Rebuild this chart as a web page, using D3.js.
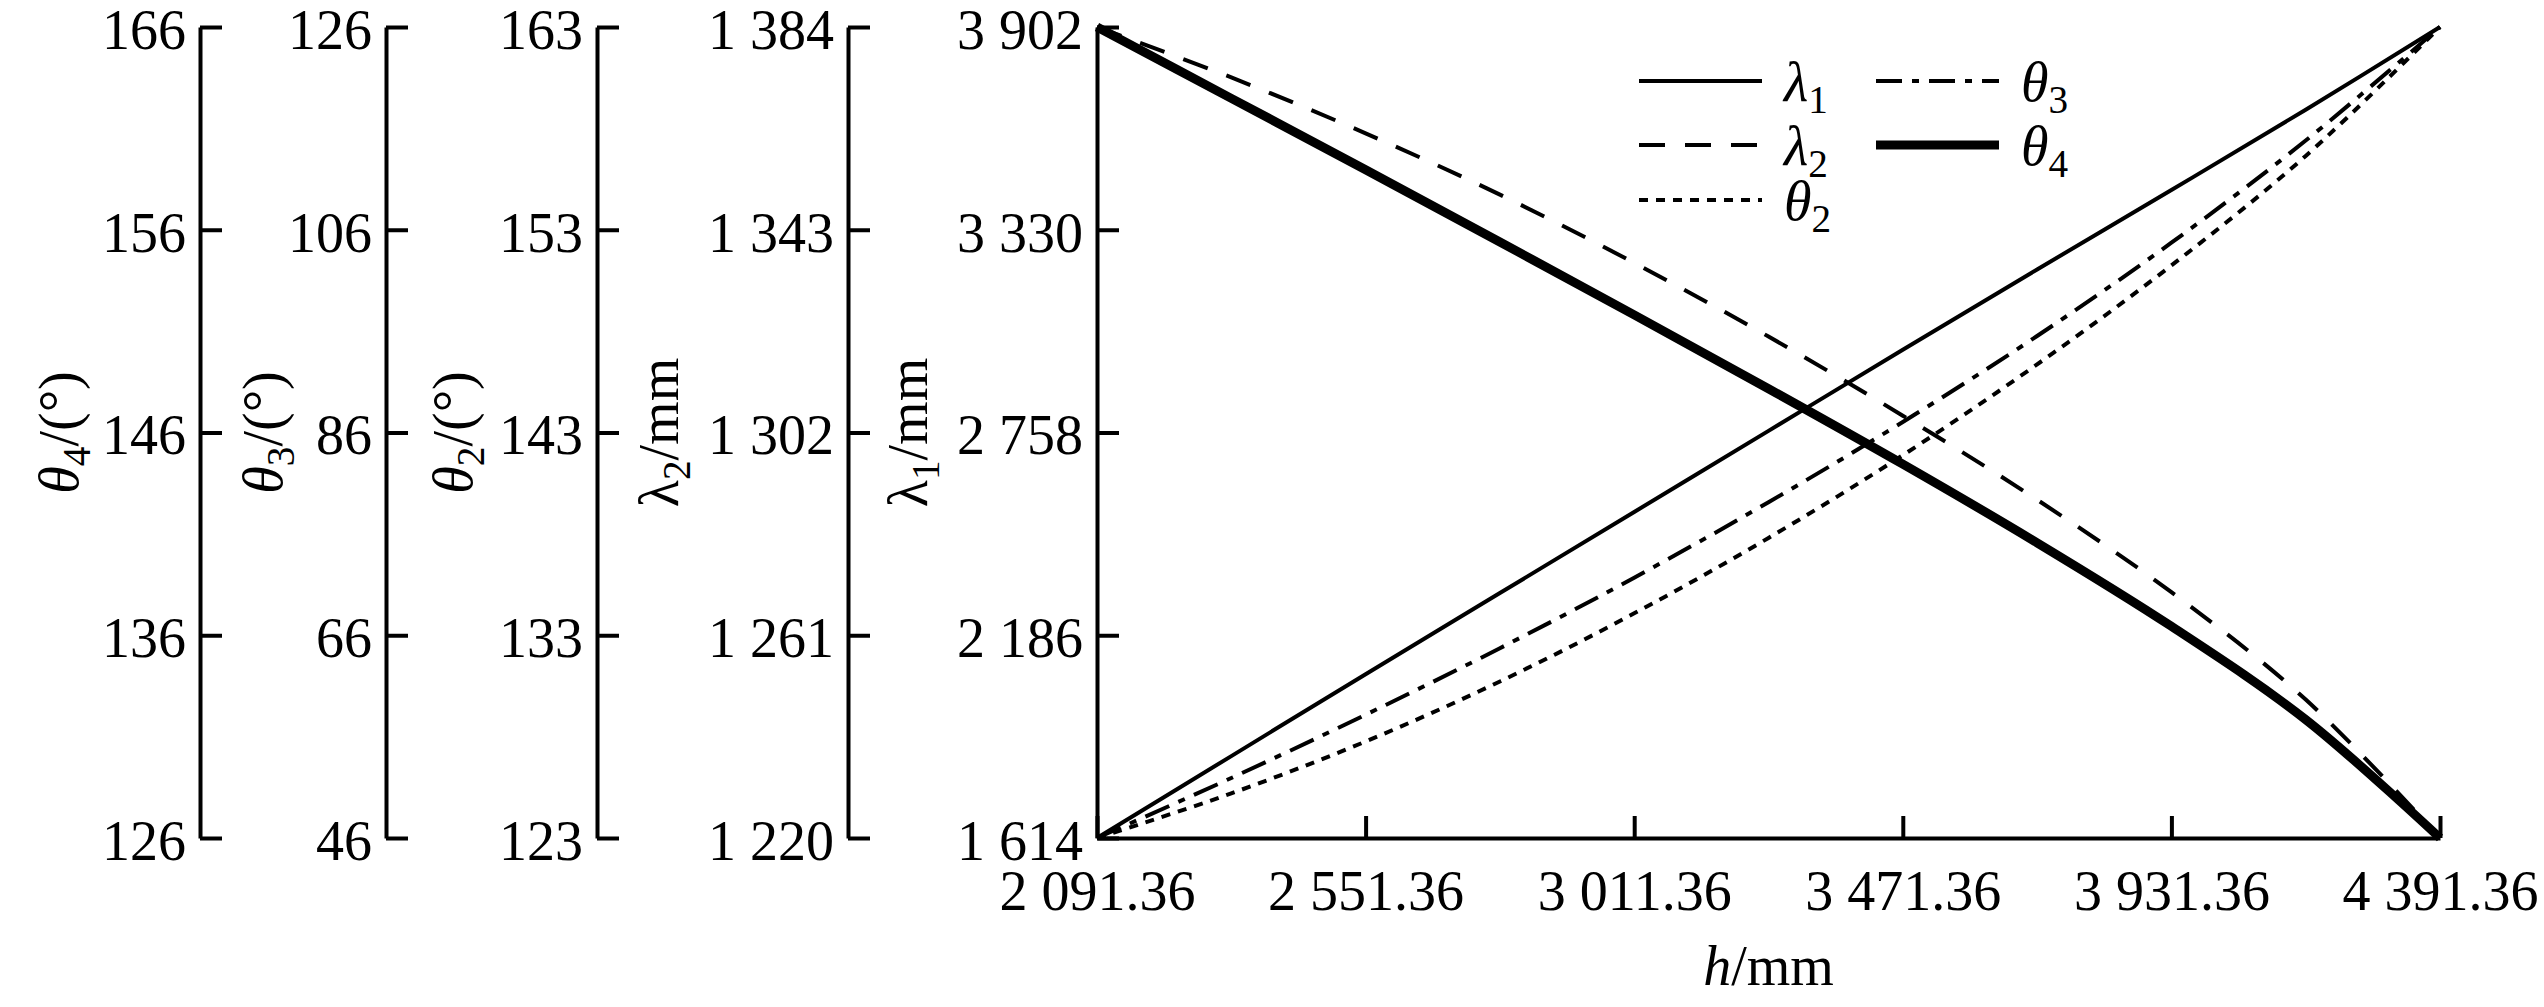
<!DOCTYPE html>
<html>
<head>
  <meta charset="utf-8">
  <title>h vs lambda / theta</title>
  <style type="text/css">
    body { margin: 0; background: #fff; }
    svg { display: block; background: #fff; }
    text { font-family: "Liberation Serif", "DejaVu Serif", serif; fill: #000; }
  </style>
  <script src="https://cdn.jsdelivr.net/npm/d3@7/dist/d3.min.js"></script>
</head>
<body>
<svg id="chart" width="2544" height="1007"></svg>

<script>
  var hValues = [2091.36, 2321.36, 2551.36, 2781.36, 3011.36, 3241.36, 3471.36, 3701.36, 3931.36, 4161.36, 4391.36];

  var lambda1 = [1614, 1845.1, 2076.2, 2305.0, 2533.8, 2762.6, 2991.4, 3217.9, 3442.1, 3668.6, 3902];
  var lambda2 = [1384, 1373.8, 1362.5, 1350.1, 1336.3, 1321.4, 1305.4, 1288.4, 1269.7, 1248.0, 1220];
  var theta2  = [123, 125.2, 127.76, 130.72, 134.08, 137.8, 141.88, 146.36, 151.24, 156.64, 163];
  var theta3  = [46, 51.92, 58.16, 64.72, 71.68, 79.12, 87.04, 95.52, 104.72, 114.8, 126];
  var theta4  = [166, 162.48, 158.96, 155.4, 151.8, 148.16, 144.44, 140.56, 136.44, 131.84, 126];

  // tick labels
  var hTicks       = [2091.36, 2551.36, 3011.36, 3471.36, 3931.36, 4391.36];
  var lambda1Ticks = [1614, 2186, 2758, 3330, 3902];
  var lambda2Ticks = [1220, 1261, 1302, 1343, 1384];
  var theta2Ticks  = [123, 133, 143, 153, 163];
  var theta3Ticks  = [46, 66, 86, 106, 126];
  var theta4Ticks  = [126, 136, 146, 156, 166];

  var plotTop = 27, plotBottom = 838, plotLeft = 1097, plotRight = 2440;
  var fontSize = 56;

  var loc = d3.formatLocale({decimal: ".", thousands: " ", grouping: [3], currency: ["", ""]});
  var fmtInt = loc.format(",");
  var fmtH = loc.format(",.2f");

  var svg = d3.select('#chart');

  var x = d3.scaleLinear().domain([hValues[0], hValues[hValues.length - 1]]).range([plotLeft, plotRight]);

  function yScale(ticks) {
    return d3.scaleLinear().domain([ticks[0], ticks[ticks.length - 1]]).range([plotBottom, plotTop]);
  }

  var yL1 = yScale(lambda1Ticks);
  var yL2 = yScale(lambda2Ticks);
  var yT2 = yScale(theta2Ticks);
  var yT3 = yScale(theta3Ticks);
  var yT4 = yScale(theta4Ticks);

  function styleAxis(g) {
    g.selectAll('path, line').attr('stroke', '#000').attr('stroke-width', 4);
    g.selectAll('text')
      .style('font-size', fontSize + 'px')
      .style('font-family', '"Liberation Serif", serif')
      .attr('fill', '#000');
  }

  // the y axes, one per quantity
  var yAxes = [
    {xPos: 200,      scale: yT4, ticks: theta4Ticks,  titleX: 78,  title: [['θ', 'i'], ['4', 's'], ['/(°)', 'n']]},
    {xPos: 386,      scale: yT3, ticks: theta3Ticks,  titleX: 282, title: [['θ', 'i'], ['3', 's'], ['/(°)', 'n']]},
    {xPos: 597,      scale: yT2, ticks: theta2Ticks,  titleX: 472, title: [['θ', 'i'], ['2', 's'], ['/(°)', 'n']]},
    {xPos: 848,      scale: yL2, ticks: lambda2Ticks, titleX: 678, title: [['λ', 'n'], ['2', 's'], ['/mm', 'n']]},
    {xPos: plotLeft, scale: yL1, ticks: lambda1Ticks, titleX: 927, title: [['λ', 'n'], ['1', 's'], ['/mm', 'n']]}
  ];

  yAxes.forEach(function (a) {
    var g = svg.append('g')
      .attr('transform', 'translate(' + a.xPos + ',0)')
      .call(d3.axisLeft(a.scale).tickValues(a.ticks).tickFormat(fmtInt)
        .tickSize(-22).tickSizeOuter(0).tickPadding(14));
    styleAxis(g);
    g.selectAll('text').attr('dy', '0.38em');

    var t = svg.append('text')
      .attr('transform', 'translate(' + a.titleX + ',' + ((plotTop + plotBottom) / 2) + ') rotate(-90)')
      .attr('text-anchor', 'middle')
      .style('font-size', fontSize + 'px');
    a.title.forEach(function (p) {
      var s = t.append('tspan').text(p[0]);
      if (p[1] === 'i') s.style('font-style', 'italic');
      if (p[1] === 's') s.style('font-size', (fontSize * 0.7) + 'px').attr('dy', 12);
      if (p[1] === 'n' && p[0].charAt(0) === '/') s.attr('dy', -12);
    });
  });

  // x axis
  var gx = svg.append('g')
    .attr('transform', 'translate(0,' + plotBottom + ')')
    .call(d3.axisBottom(x).tickValues(hTicks).tickFormat(fmtH)
      .tickSize(-22).tickSizeOuter(0).tickPadding(32));
  styleAxis(gx);

  var xt = svg.append('text')
    .attr('x', (plotLeft + plotRight) / 2)
    .attr('y', 985)
    .attr('text-anchor', 'middle')
    .style('font-size', fontSize + 'px');
  xt.append('tspan').text('h').style('font-style', 'italic');
  xt.append('tspan').text('/mm');

  // curves
  var series = [
    {name: 'λ', sub: '1', values: lambda1, y: yL1, width: 4, dash: null},
    {name: 'λ', sub: '2', values: lambda2, y: yL2, width: 4, dash: '26,20'},
    {name: 'θ', sub: '2', values: theta2,  y: yT2, width: 4, dash: '9,8'},
    {name: 'θ', sub: '3', values: theta3,  y: yT3, width: 4, dash: '26,10,7,10'},
    {name: 'θ', sub: '4', values: theta4,  y: yT4, width: 9, dash: null}
  ];

  series.forEach(function (s) {
    var line = d3.line()
      .x(function (d, i) { return x(hValues[i]); })
      .y(function (d) { return s.y(d); })
      .curve(d3.curveCatmullRom);

    svg.append('path')
      .datum(s.values)
      .attr('d', line)
      .attr('fill', 'none')
      .attr('stroke', '#000')
      .attr('stroke-width', s.width)
      .attr('stroke-dasharray', s.dash);
  });

  // legend: two columns
  var legendPos = [
    {i: 0, x: 1639, y: 81},
    {i: 1, x: 1639, y: 145},
    {i: 2, x: 1639, y: 200},
    {i: 3, x: 1876, y: 81},
    {i: 4, x: 1876, y: 145}
  ];

  legendPos.forEach(function (p) {
    var s = series[p.i];
    svg.append('line')
      .attr('x1', p.x).attr('x2', p.x + 123)
      .attr('y1', p.y).attr('y2', p.y)
      .attr('stroke', '#000')
      .attr('stroke-width', s.width)
      .attr('stroke-dasharray', s.dash);

    var t = svg.append('text')
      .attr('x', p.x + 145)
      .attr('y', p.y + 20)
      .style('font-size', fontSize + 'px');
    t.append('tspan').text(s.name).style('font-style', 'italic');
    t.append('tspan').text(s.sub).style('font-size', (fontSize * 0.7) + 'px').attr('dy', 12);
  });
</script>
</body>
</html>
